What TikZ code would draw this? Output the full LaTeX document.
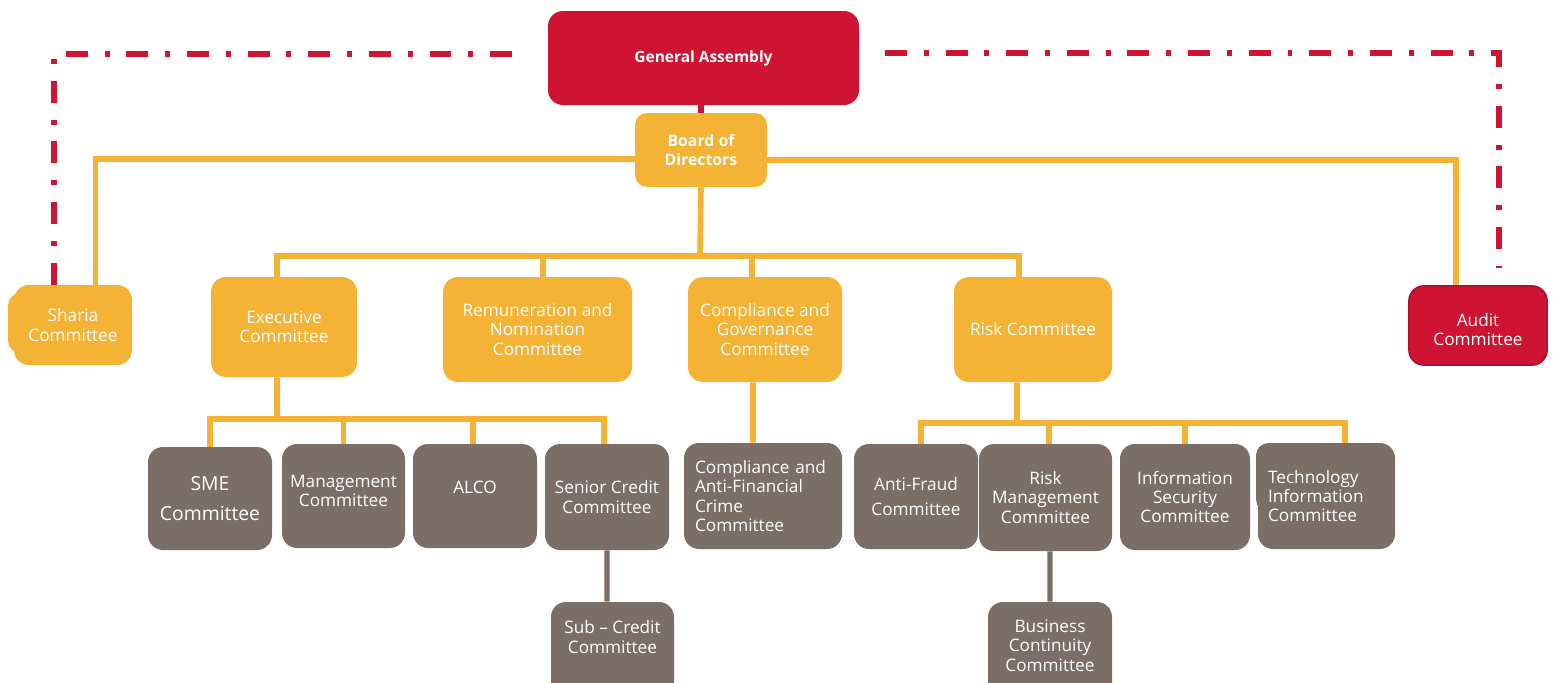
\documentclass[tikz,border=0pt]{standalone}
\usepackage{fontspec}
\setmainfont{Open Sans}
\definecolor{cbred}{HTML}{CE1432}
\definecolor{cborange}{HTML}{F5B335}
\definecolor{cbgrey}{HTML}{7B6E66}

\begin{document}
\begin{tikzpicture}[
    x=0.02cm, y=-0.02cm,
    every node/.style={rounded corners=0.3cm, text=white, align=center, inner sep=2pt, font=\fontsize{9.8}{11}\selectfont},
    size/.style 2 args={minimum width=#1*0.02cm, minimum height=#2*0.02cm},
    top/.style={fill=cbred},
    board/.style={fill=cborange},
    committee/.style={fill=cborange},
    sub/.style={fill=cbgrey},
    link/.style={draw=cborange, line width=3.2pt},
    sublink/.style={draw=cbgrey, line width=3pt},
    audit/.style={draw=cbred, line width=3pt, dash pattern=on 12.5pt off 9.6pt on 2.8pt off 9.6pt}
  ]
    \useasboundingbox (0,0) rectangle (1553,683);

    % stray shapes behind two boxes
    \fill[cborange, rounded corners=0.25cm] (8,293) rectangle (100,353);
    \fill[cbgrey, rounded corners=0.25cm] (1256,443) rectangle (1360,512);

    \node[top, size={311}{94}, font=\fontsize{8.8}{11}\bfseries] (ga) at (703.5,58) {General Assembly};
    \node[board, size={132}{74}, rounded corners=0.24cm, font=\fontsize{9}{10.8}\bfseries] (board) at (701,150) {Board of\\Directors};

    \node[committee, size={118}{80}] (sharia) at (73,325) {Sharia\\Committee};
    \node[top, size={138}{79}, draw=cbred!85!black, line width=1pt, text height=0.8cm] (audit) at (1478,325.5) {Audit\\Committee};

    \node[committee, size={146}{100}] (exec) at (284,327) {Executive\\Committee};
    \node[committee, size={189}{105}] (remun) at (537.5,329.5) {Remuneration and\\Nomination\\Committee};
    \node[committee, size={154}{105}] (comp) at (765,329.5) {Compliance and\\Governance\\Committee};
    \node[committee, size={158}{105}] (risk) at (1033,329.5) {Risk Committee};

    \node[sub, size={124}{103}, font=\fontsize{11}{17}\selectfont] (sme) at (210,498.5) {SME\\Committee};
    \node[sub, size={123}{104}, text depth=0.2cm] (mgmt) at (343.5,496) {Management\\Committee};
    \node[sub, size={124}{104}, text depth=0.36cm] (alco) at (475,496) {ALCO};
    \node[sub, size={124}{106}] (senior) at (607,497) {Senior Credit\\Committee};
    \node[sub, size={123}{100}, text depth=0.6cm] (subcredit) at (612.5,652) {Sub -- Credit\\Committee};

    \node[sub, size={158}{106}, align=left, text width=2.72cm] (cafc) at (763,496) {Compliance and\\Anti-Financial\\Crime\\Committee};

    \node[sub, size={124}{105}, font=\fontsize{9.8}{14}\selectfont] (fraud) at (916,496.5) {Anti-Fraud\\Committee};
    \node[sub, size={133}{107}] (riskmgmt) at (1045.5,497.5) {Risk\\Management\\Committee};
    \node[sub, size={124}{100}, text depth=0.26cm] (bcont) at (1050,652) {Business\\Continuity\\Committee};
    \node[sub, size={130}{106}] (infosec) at (1185,497) {Information\\Security\\Committee};
    \node[sub, size={137}{106}, align=left, text width=2.34cm] (techinfo) at (1326.5,496) {Technology\\Information\\Committee};

    % bus points
    \coordinate (bus1) at (700,256);
    \coordinate (bus2) at (277,419);
    \coordinate (bus3) at (1017,423);
    \coordinate (redL) at (520,54);
    \coordinate (redR) at (885,53);
    \coordinate (redRend) at (1499,268);

    \draw[cbred, line width=3pt] (board.north) -- (board.north |- ga.south);
    \draw[link] ([yshift=-0.18cm]board.west) -| ([xshift=0.45cm]sharia.north);
    \draw[link] ([yshift=-0.2cm]board.east) -| ([xshift=-0.44cm]audit.north);

    \draw[link] (board.south) -- (bus1);
    \draw[link] ([xshift=-0.14cm]exec.north) |- (bus1);
    \draw[link] ([xshift=0.11cm]remun.north) |- (bus1);
    \draw[link] ([xshift=-0.26cm]comp.north) |- (bus1);
    \draw[link] ([xshift=-0.28cm]risk.north) |- (bus1);

    \draw[link] ([xshift=-0.14cm]exec.south) -- (bus2);
    \draw[link] (sme.north) |- (bus2);
    \draw[link] (mgmt.north) |- (bus2);
    \draw[link] ([xshift=-0.04cm]alco.north) |- (bus2);
    \draw[link] ([xshift=-0.06cm]senior.north) |- (bus2);

    \draw[link] ([xshift=-0.24cm]comp.south) -- ([xshift=-0.2cm]cafc.north);

    \draw[link] ([xshift=-0.32cm]risk.south) -- (bus3);
    \draw[link] ([xshift=0.1cm]fraud.north) |- (bus3);
    \draw[link] ([xshift=0.07cm]riskmgmt.north) |- (bus3);
    \draw[link] (infosec.north) |- (bus3);
    \draw[link] ([xshift=0.37cm]techinfo.north) |- (bus3);

    \draw[sublink] (senior.south) -- ([xshift=-0.11cm]subcredit.north);
    \draw[sublink] ([xshift=0.09cm]riskmgmt.south) -- (bcont.north);

    \draw[audit] ([xshift=-0.38cm]sharia.north) |- (redL);
    \draw[audit] (redR) -| (redRend);
\end{tikzpicture}
\end{document}
